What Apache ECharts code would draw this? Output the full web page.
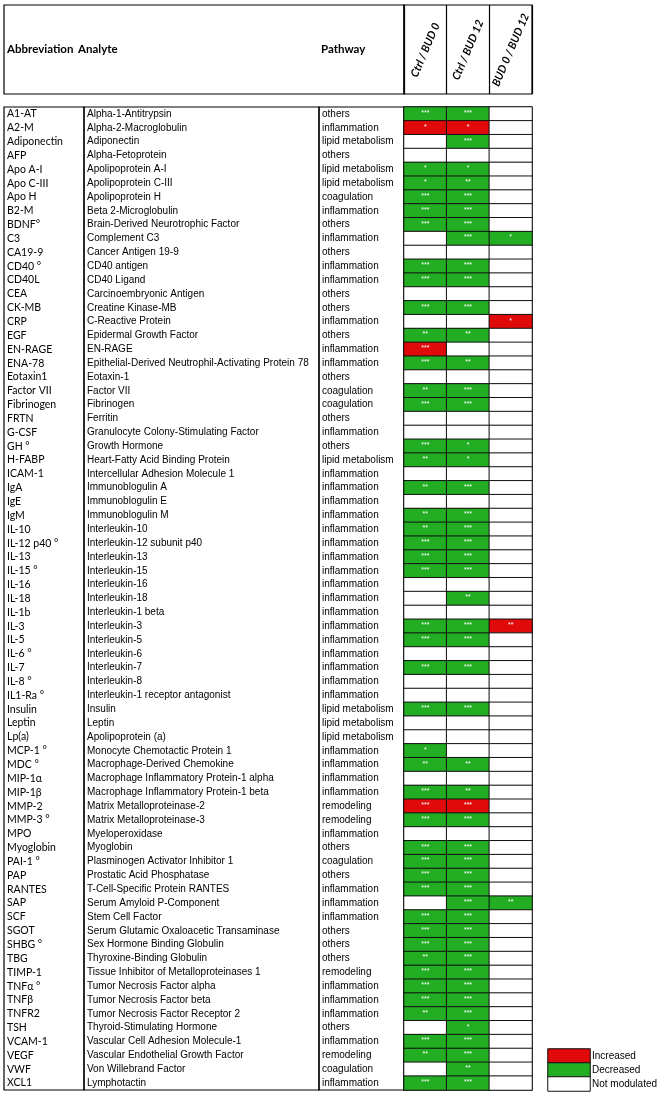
<!DOCTYPE html>
<html><head><meta charset="utf-8">
<script src="https://cdn.jsdelivr.net/npm/echarts@6/dist/echarts.min.js"></script>
<style>html,body{margin:0;padding:0;background:#fff}#c{width:662px;height:1096px}</style>
</head><body><div id="c"></div>
<script>
const abbreviations = ['A1-AT','A2-M','Adiponectin','AFP','Apo A-I','Apo C-III','Apo H','B2-M','BDNF°','C3','CA19-9','CD40 °','CD40L','CEA','CK-MB','CRP','EGF','EN-RAGE','ENA-78','Eotaxin1','Factor VII','Fibrinogen','FRTN','G-CSF','GH °','H-FABP','ICAM-1','IgA','IgE','IgM','IL-10','IL-12 p40 °','IL-13','IL-15 °','IL-16','IL-18','IL-1b','IL-3','IL-5','IL-6 °','IL-7','IL-8 °','IL1-Ra °','Insulin','Leptin','Lp(a)','MCP-1 °','MDC °','MIP-1α','MIP-1β','MMP-2','MMP-3 °','MPO','Myoglobin','PAI-1 °','PAP','RANTES','SAP','SCF','SGOT','SHBG °','TBG','TIMP-1','TNFα °','TNFβ','TNFR2','TSH','VCAM-1','VEGF','VWF','XCL1'];
const analytes = ['Alpha-1-Antitrypsin','Alpha-2-Macroglobulin','Adiponectin','Alpha-Fetoprotein','Apolipoprotein A-I','Apolipoprotein C-III','Apolipoprotein H','Beta 2-Microglobulin','Brain-Derived Neurotrophic Factor','Complement C3','Cancer Antigen 19-9','CD40 antigen','CD40 Ligand','Carcinoembryonic Antigen','Creatine Kinase-MB','C-Reactive Protein','Epidermal Growth Factor','EN-RAGE','Epithelial-Derived Neutrophil-Activating Protein 78','Eotaxin-1','Factor VII','Fibrinogen','Ferritin','Granulocyte Colony-Stimulating Factor','Growth Hormone','Heart-Fatty Acid Binding Protein','Intercellular Adhesion Molecule 1','Immunoblogulin A','Immunoblogulin E','Immunoblogulin M','Interleukin-10','Interleukin-12 subunit p40','Interleukin-13','Interleukin-15','Interleukin-16','Interleukin-18','Interleukin-1 beta','Interleukin-3','Interleukin-5','Interleukin-6','Interleukin-7','Interleukin-8','Interleukin-1 receptor antagonist','Insulin','Leptin','Apolipoprotein (a)','Monocyte Chemotactic Protein 1','Macrophage-Derived Chemokine','Macrophage Inflammatory Protein-1 alpha','Macrophage Inflammatory Protein-1 beta','Matrix Metalloproteinase-2','Matrix Metalloproteinase-3','Myeloperoxidase','Myoglobin','Plasminogen Activator Inhibitor 1','Prostatic Acid Phosphatase','T-Cell-Specific Protein RANTES','Serum Amyloid P-Component','Stem Cell Factor','Serum Glutamic Oxaloacetic Transaminase','Sex Hormone Binding Globulin','Thyroxine-Binding Globulin','Tissue Inhibitor of Metalloproteinases 1','Tumor Necrosis Factor alpha','Tumor Necrosis Factor beta','Tumor Necrosis Factor Receptor 2','Thyroid-Stimulating Hormone','Vascular Cell Adhesion Molecule-1','Vascular Endothelial Growth Factor','Von Willebrand Factor','Lymphotactin'];
const pathways = ['others','inflammation','lipid metabolism','others','lipid metabolism','lipid metabolism','coagulation','inflammation','others','inflammation','others','inflammation','inflammation','others','others','inflammation','others','inflammation','inflammation','others','coagulation','coagulation','others','inflammation','others','lipid metabolism','inflammation','inflammation','inflammation','inflammation','inflammation','inflammation','inflammation','inflammation','inflammation','inflammation','inflammation','inflammation','inflammation','inflammation','inflammation','inflammation','inflammation','lipid metabolism','lipid metabolism','lipid metabolism','inflammation','inflammation','inflammation','inflammation','remodeling','remodeling','inflammation','others','coagulation','others','inflammation','inflammation','inflammation','others','others','others','remodeling','inflammation','inflammation','inflammation','others','inflammation','remodeling','coagulation','inflammation'];
const comparisons = ['Ctrl / BUD 0','Ctrl / BUD 12','BUD 0 / BUD 12'];
// signed significance: negative = decreased, positive = increased, |n| = number of stars, 0 = not modulated
const ctrlBud0  = [-3,1,0,0,-1,-1,-3,-3,-3,0,0,-3,-3,0,-3,0,-2,3,-3,0,-2,-3,0,0,-3,-2,0,-2,0,-2,-2,-3,-3,-3,0,0,0,-3,-3,0,-3,0,0,-3,0,0,-1,-2,0,-3,3,-3,0,-3,-3,-3,-3,0,-3,-3,-3,-2,-3,-3,-3,-2,0,-3,-2,0,-3];
const ctrlBud12 = [-3,1,-3,0,-1,-2,-3,-3,-3,-3,0,-3,-3,0,-3,0,-2,0,-2,0,-3,-3,0,0,-1,-1,0,-3,0,-3,-3,-3,-3,-3,0,-2,0,-3,-3,0,-3,0,0,-3,0,0,0,-2,0,-2,3,-3,0,-3,-3,-3,-3,-3,-3,-3,-3,-3,-3,-3,-3,-3,-1,-3,-3,-2,-3];
const bud0Bud12 = [0,0,0,0,0,0,0,0,0,-1,0,0,0,0,0,1,0,0,0,0,0,0,0,0,0,0,0,0,0,0,0,0,0,0,0,0,0,2,0,0,0,0,0,0,0,0,0,0,0,0,0,0,0,0,0,0,0,-2,0,0,0,0,0,0,0,0,0,0,0,0,0];
const legendLabels = ['Increased','Decreased','Not modulated'];
const legendValues = [1,-1,0];

const RED = '#e10a0a', GREEN = '#22ad22';
const cols = [ctrlBud0, ctrlBud12, bud0Bud12];
const cellData = [];
cols.forEach((arr, j) => arr.forEach((v, i) => cellData.push([j, i, v])));
const legendData = legendValues.map((v, i) => [0, i, v]);

const TOP = 107, H = 983;
const grids = [
  {left: 4, top: TOP, width: 80, height: H},
  {left: 84, top: TOP, width: 235, height: H},
  {left: 319, top: TOP, width: 85, height: H},
  {left: 404, top: TOP, width: 128, height: H},
  {left: 4, top: 5, width: 400, height: 89},
  {left: 404, top: 5, width: 128, height: 89},
  {left: 548, top: 1049, width: 42, height: 42}
].map((g, k) => Object.assign({show: k < 6, borderColor: '#000', borderWidth: 1.2, backgroundColor: 'transparent', outerBoundsMode: 'none', containLabel: false}, g));

const hidden = {axisLine: {show: false}, axisTick: {show: false}, axisLabel: {show: false}, splitLine: {show: false}};
const textCol = (idx, arr, family) => ({
  type: 'category', gridIndex: idx, data: abbreviations, inverse: true,
  axisLine: {show: false}, axisTick: {show: false}, splitLine: {show: false},
  axisLabel: {inside: true, margin: 3, interval: 0, color: '#000', fontSize: idx === 0 ? 10.5 : 10, fontFamily: family,
    formatter: (v, i) => arr[i]}
});

const xAxis = [
  Object.assign({type: 'category', gridIndex: 0, data: ['']}, hidden),
  Object.assign({type: 'category', gridIndex: 1, data: ['']}, hidden),
  Object.assign({type: 'category', gridIndex: 2, data: ['']}, hidden),
  Object.assign({type: 'category', gridIndex: 3, data: comparisons}, hidden),
  Object.assign({type: 'category', gridIndex: 4, data: ['']}, hidden),
  {type: 'category', gridIndex: 5, data: comparisons, position: 'bottom',
   axisLine: {show: false}, axisTick: {show: false},
   splitLine: {show: true, interval: 0, lineStyle: {color: '#000', width: 1.2}},
   axisLabel: {inside: true, interval: 0, margin: 44, rotate: 67, align: 'center', verticalAlign: 'middle',
     fontSize: 11, fontWeight: 'bold', fontStyle: 'italic', fontFamily: 'Lato', color: '#000'}},
  Object.assign({type: 'category', gridIndex: 6, data: ['']}, hidden)
];
const yAxis = [
  textCol(0, abbreviations, 'Lato'),
  textCol(1, analytes, 'Liberation Sans'),
  textCol(2, pathways, 'Liberation Sans'),
  Object.assign({type: 'category', gridIndex: 3, data: abbreviations, inverse: true}, hidden),
  Object.assign({type: 'category', gridIndex: 4, data: ['']}, hidden),
  Object.assign({type: 'category', gridIndex: 5, data: ['']}, hidden),
  {type: 'category', gridIndex: 6, data: legendLabels, inverse: true, position: 'right',
   axisLine: {show: false}, axisTick: {show: false}, splitLine: {show: false},
   axisLabel: {margin: 2, interval: 0, color: '#000', fontSize: 10, fontFamily: 'Liberation Sans', align: 'left'}}
];

const headStyle = {fontSize: 11.5, fontWeight: 'bold', fontFamily: 'Lato', color: '#000'};
const option = {
  animation: false,
  backgroundColor: '#fff',
  title: [
    {text: 'Abbreviation', left: 7, top: 43, padding: 0, textStyle: headStyle},
    {text: 'Analyte', left: 78, top: 43, padding: 0, textStyle: headStyle},
    {text: 'Pathway', left: 321, top: 43, padding: 0, textStyle: headStyle}
  ],
  grid: grids, xAxis, yAxis,
  visualMap: {type: 'piecewise', show: false, dimension: 2, seriesIndex: [0, 1],
    pieces: [{min: -3, max: -1, color: GREEN}, {value: 0, color: '#ffffff'}, {min: 1, max: 3, color: RED}]},
  series: [
    {type: 'heatmap', xAxisIndex: 3, yAxisIndex: 3, data: cellData,
     itemStyle: {borderColor: '#111', borderWidth: 1},
     label: {show: true, color: '#fff', fontSize: 7, fontFamily: 'Liberation Sans', offset: [0, -1],
       formatter: p => '*'.repeat(Math.abs(p.value[2]))},
     emphasis: {disabled: true}},
    {type: 'heatmap', xAxisIndex: 6, yAxisIndex: 6, data: legendData,
     itemStyle: {borderColor: '#111', borderWidth: 1},
     label: {show: false}, emphasis: {disabled: true}}
  ]
};
echarts.init(document.getElementById('c'), null, {renderer: 'canvas'}).setOption(option);
</script></body></html>
